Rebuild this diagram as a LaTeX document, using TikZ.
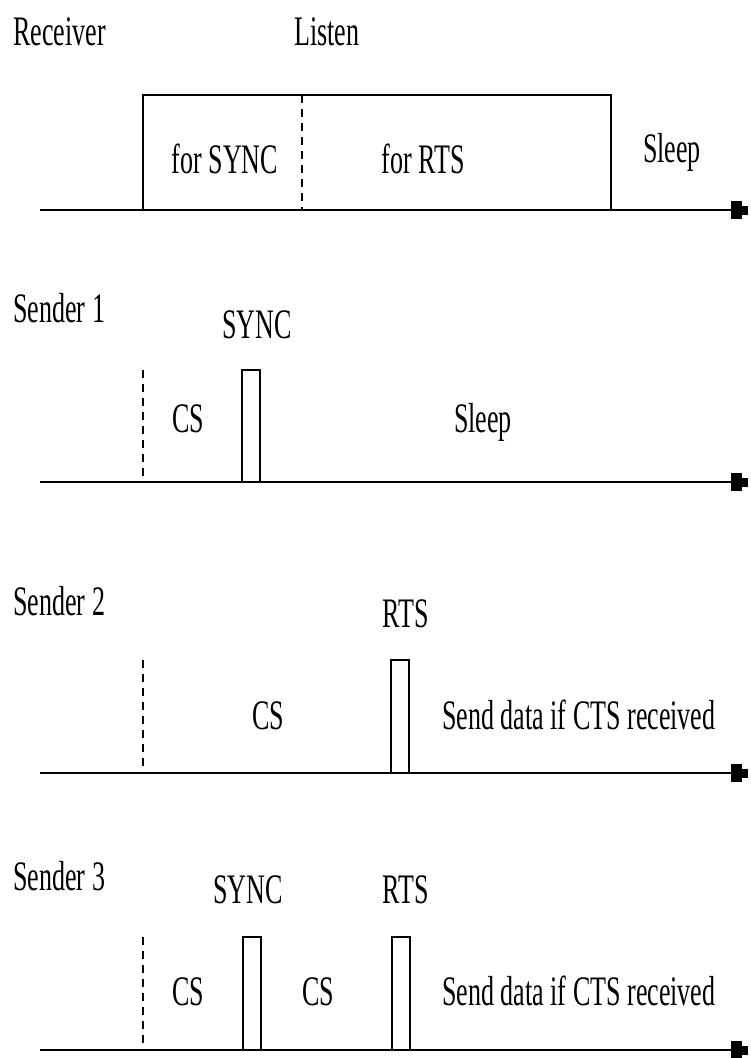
\documentclass[tikz,border=0pt]{standalone}
\usepackage{fontspec}
\newfontfamily\tnr{Liberation Serif}[FakeStretch=0.62]
\usetikzlibrary{arrows.meta}

\begin{document}
\begin{tikzpicture}[x=1pt,y=-1pt,
  lbl/.style={font=\tnr\fontsize{42}{46}\selectfont,inner sep=0pt,anchor=base},
  axis/.style={line width=2.5pt,-{Rectangle[length=11pt,width=18pt,sep=0pt]Rectangle[length=6pt,width=9pt]}},
  pulse/.style={line width=2pt},
  cut/.style={line width=2pt,dash pattern=on 8pt off 6pt}]
\useasboundingbox (0,0) rectangle (751,1058);
% time axes
\foreach \y in {210,482,773,1050}
{\draw[axis] (40,\y) -- (748,\y);}
% receiver listen period
\draw[pulse] (143,210) |- (611,95) -- (611,210);
\draw[cut] (302,95) -- (302,210);
% carrier sense start
\foreach \y/\t in {482/370,773/660,1050/937}
{\draw[cut] (143,\t) -- (143,\y);}
% packets
\foreach \x/\y/\t in {242/482/370,391/773/660,243/1050/937,392/1050/937}
{\draw[pulse] (\x,\y) |- (\x+18,\t) -- (\x+18,\y);}
% labels
\node[lbl,anchor=base west] (recv) at (13,45) {Receiver};
\node[lbl] (listen) at (327,45) {Listen};
\node[lbl] (forsync) at (225,173) {for SYNC};
\node[lbl] (forrts) at (423,173) {for RTS};
\node[lbl] (rsleep) at (672,162) {Sleep};
\node[lbl,anchor=base west] (snd1) at (13,322) {Sender 1};
\node[lbl] (sync1) at (257,338) {SYNC};
\node[lbl] (cs1) at (188,432) {CS};
\node[lbl] (sleep1) at (483,432) {Sleep};
\node[lbl,anchor=base west] (snd2) at (13,615) {Sender 2};
\node[lbl] (rts2) at (406,627) {RTS};
\node[lbl] (cs2) at (268,729) {CS};
\node[lbl,anchor=base west] (data2) at (442,729) {Send data if CTS received};
\node[lbl,anchor=base west] (snd3) at (13,890) {Sender 3};
\node[lbl] (sync3) at (248,903) {SYNC};
\node[lbl] (rts3) at (406,903) {RTS};
\node[lbl] (cs3a) at (188,1005) {CS};
\node[lbl] (cs3b) at (318,1005) {CS};
\node[lbl,anchor=base west] (data3) at (442,1005) {Send data if CTS received};
\end{tikzpicture}
\end{document}
